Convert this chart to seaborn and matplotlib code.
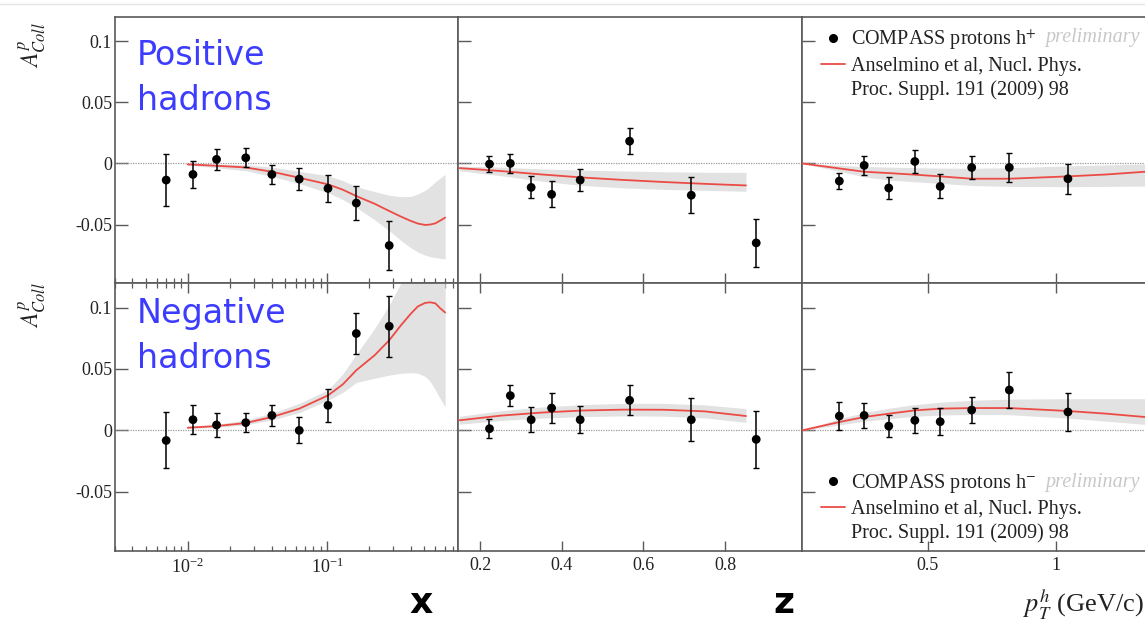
import numpy as np
import pandas as pd
import matplotlib
matplotlib.use("Agg")
import matplotlib.pyplot as plt
import seaborn as sns
from matplotlib.lines import Line2D
from matplotlib.ticker import FixedLocator, FixedFormatter, NullLocator, NullFormatter, LogLocator

# ---------------- data ----------------
x_bins = [0.0070, 0.0109, 0.0161, 0.0261, 0.0402, 0.0632, 0.1017, 0.1625, 0.280]
pos_x_val = [-0.0136, -0.0090, 0.0033, 0.0046, -0.0090, -0.0128, -0.0204, -0.0324, -0.0671]
pos_x_err = [0.0216, 0.0110, 0.0088, 0.0077, 0.0078, 0.0091, 0.0110, 0.0139, 0.0197]
neg_x_val = [-0.0082, 0.0087, 0.0044, 0.0063, 0.0122, 0.0000, 0.0204, 0.0789, 0.0848]
neg_x_err = [0.0228, 0.0120, 0.0098, 0.0080, 0.0083, 0.0106, 0.0135, 0.0170, 0.0250]

z_bins = [0.223, 0.274, 0.325, 0.375, 0.445, 0.566, 0.717, 0.876]
pos_z_val = [-0.0005, 0.0000, -0.0196, -0.0253, -0.0136, 0.0182, -0.0260, -0.0650]
pos_z_err = [0.0065, 0.0080, 0.0090, 0.0107, 0.0093, 0.0104, 0.0147, 0.0197]
neg_z_val = [0.0014, 0.0283, 0.0087, 0.0182, 0.0087, 0.0245, 0.0087, -0.0073]
neg_z_err = [0.0075, 0.0087, 0.0103, 0.0120, 0.0110, 0.0123, 0.0174, 0.0233]

pt_bins = [0.155, 0.252, 0.348, 0.450, 0.549, 0.672, 0.819, 1.048]
pos_pt_val = [-0.0144, -0.0016, -0.0201, 0.0016, -0.0188, -0.0033, -0.0033, -0.0125]
pos_pt_err = [0.0068, 0.0080, 0.0087, 0.0091, 0.0098, 0.0095, 0.0122, 0.0122]
neg_pt_val = [0.0117, 0.0122, 0.0035, 0.0082, 0.0071, 0.0166, 0.0329, 0.0150]
neg_pt_err = [0.0117, 0.0100, 0.0090, 0.0102, 0.0109, 0.0108, 0.0144, 0.0152]

# model curves (Anselmino et al.) with uncertainty bands
x_model = [0.0100, 0.0161, 0.0261, 0.0402, 0.0632, 0.1017, 0.1300, 0.1625, 0.220,
           0.280, 0.340, 0.400, 0.450, 0.507, 0.550, 0.600, 0.650, 0.706]
pos_x_model = [-0.0008, -0.0019, -0.0033, -0.0068, -0.0117, -0.0171, -0.0215, -0.0267, -0.0330,
               -0.0389, -0.0435, -0.0470, -0.0492, -0.0503, -0.0500, -0.0490, -0.0468, -0.0443]
pos_x_lo = [-0.0015, -0.0035, -0.0060, -0.0105, -0.0165, -0.0240, -0.0295, -0.0360, -0.0460,
            -0.0550, -0.0630, -0.0690, -0.0725, -0.0750, -0.0762, -0.0770, -0.0776, -0.0780]
pos_x_hi = [0.0000, -0.0005, -0.0010, -0.0030, -0.0065, -0.0100, -0.0140, -0.0190, -0.0230,
            -0.0260, -0.0272, -0.0270, -0.0250, -0.0220, -0.0190, -0.0150, -0.0120, -0.0090]
neg_x_model = [0.0022, 0.0035, 0.0060, 0.0109, 0.0177, 0.0285, 0.0375, 0.0490, 0.0612,
               0.0734, 0.0856, 0.0950, 0.1010, 0.1038, 0.1043, 0.1035, 0.0995, 0.0960]
neg_x_lo = [0.0015, 0.0025, 0.0045, 0.0085, 0.0145, 0.0245, 0.0310, 0.0390, 0.0425,
            0.0450, 0.0465, 0.0470, 0.0465, 0.0440, 0.0400, 0.0330, 0.0260, 0.0190]
neg_x_hi = [0.0030, 0.0050, 0.0085, 0.0140, 0.0220, 0.0330, 0.0460, 0.0620, 0.0830,
            0.1020, 0.1200, 0.1300, 0.1350, 0.1400, 0.1400, 0.1400, 0.1400, 0.1400]

z_model = [0.149, 0.250, 0.350, 0.450, 0.550, 0.650, 0.750, 0.851]
pos_z_model = [-0.0038, -0.0062, -0.0090, -0.0115, -0.0135, -0.0152, -0.0167, -0.0180]
pos_z_lo = [-0.0060, -0.0100, -0.0145, -0.0180, -0.0200, -0.0212, -0.0220, -0.0228]
pos_z_hi = [-0.0022, -0.0030, -0.0045, -0.0055, -0.0062, -0.0068, -0.0072, -0.0073]
neg_z_model = [0.0082, 0.0120, 0.0145, 0.0162, 0.0169, 0.0168, 0.0155, 0.0117]
neg_z_lo = [0.0050, 0.0080, 0.0100, 0.0112, 0.0118, 0.0116, 0.0102, 0.0065]
neg_z_hi = [0.0115, 0.0160, 0.0190, 0.0210, 0.0220, 0.0220, 0.0208, 0.0177]

pt_model = [0.009, 0.155, 0.252, 0.348, 0.450, 0.549, 0.672, 0.819, 1.048, 1.200, 1.349]
pos_pt_model = [0.0000, -0.0041, -0.0068, -0.0079, -0.0092, -0.0106, -0.0125, -0.0125, -0.0106, -0.0090, -0.0068]
pos_pt_lo = [0.0000, -0.0065, -0.0110, -0.0135, -0.0150, -0.0163, -0.0180, -0.0188, -0.0190, -0.0188, -0.0185]
pos_pt_hi = [0.0000, -0.0015, -0.0025, -0.0030, -0.0035, -0.0038, -0.0040, -0.0035, -0.0020, -0.0012, -0.0005]
neg_pt_model = [0.0000, 0.0068, 0.0109, 0.0136, 0.0163, 0.0177, 0.0182, 0.0182, 0.0158, 0.0136, 0.0109]
neg_pt_lo = [0.0000, 0.0045, 0.0075, 0.0095, 0.0115, 0.0125, 0.0130, 0.0128, 0.0100, 0.0075, 0.0049]
neg_pt_hi = [0.0000, 0.0095, 0.0145, 0.0180, 0.0210, 0.0230, 0.0245, 0.0255, 0.0258, 0.0258, 0.0258]

y_ticks = [-0.05, 0.0, 0.05, 0.1]
y_tick_labels = ["-0.05", "0", "0.05", "0.1"]
z_ticks = [0.2, 0.4, 0.6, 0.8]
z_tick_labels = ["0.2", "0.4", "0.6", "0.8"]
pt_ticks = [0.5, 1.0]
pt_tick_labels = ["0.5", "1"]

row_notes = [["Positive", "hadrons"], ["Negative", "hadrons"]]
legend_data = ["COMPASS protons h$^{+}$", "COMPASS protons h$^{-}$"]
legend_model = ["Anselmino et al, Nucl. Phys.", "Proc. Suppl. 191 (2009) 98"]

# ---------------- style ----------------
sns.set_theme(style="ticks")
plt.rcParams['font.family'] = ['Liberation Serif', 'DejaVu Serif']
plt.rcParams['mathtext.fontset'] = 'stix'

RED = "#ec4b45"
BAND = "#e2e2e2"
FRAME = "#5a5a5a"

fig = plt.figure(figsize=(11.45, 6.27), dpi=100)

lefts = [0.1004, 0.4004, 0.7004]
widths = [0.3000, 0.3000, 0.2996]
rows = [(0.5486, 0.4248), (0.1220, 0.4266)]
ylim = (-0.0978, 0.1200)

def make_panel(ax, xb, val, err, xm, ym, lo, hi):
    ax.fill_between(xm, lo, hi, color=BAND, lw=0, zorder=1)
    ax.axhline(0, color="#9a9a9a", lw=0.9, ls=(0, (1, 1)), zorder=2)
    sns.lineplot(x=xm, y=ym, ax=ax, color=RED, lw=1.3, sort=False, zorder=3)
    ax.errorbar(xb, val, yerr=err, fmt="none", ecolor="black", elinewidth=1.1,
                capsize=2.2, capthick=1.0, zorder=4)
    sns.scatterplot(x=xb, y=val, ax=ax, color="black", s=40, edgecolor="none",
                    zorder=5, legend=False)

panels = [
    [(x_bins, pos_x_val, pos_x_err, x_model, pos_x_model, pos_x_lo, pos_x_hi),
     (z_bins, pos_z_val, pos_z_err, z_model, pos_z_model, pos_z_lo, pos_z_hi),
     (pt_bins, pos_pt_val, pos_pt_err, pt_model, pos_pt_model, pos_pt_lo, pos_pt_hi)],
    [(x_bins, neg_x_val, neg_x_err, x_model, neg_x_model, neg_x_lo, neg_x_hi),
     (z_bins, neg_z_val, neg_z_err, z_model, neg_z_model, neg_z_lo, neg_z_hi),
     (pt_bins, neg_pt_val, neg_pt_err, pt_model, neg_pt_model, neg_pt_lo, neg_pt_hi)],
]
xlims = [(0.003, 0.88), (0.147, 0.988), (0.009, 1.349)]

axes = [[None] * 3 for _ in range(2)]
for r, (b, h) in enumerate(rows):
    for c in range(3):
        ax = fig.add_axes([lefts[c], b, widths[c], h])
        axes[r][c] = ax
        if c == 0:
            ax.set_xscale("log")
        make_panel(ax, *panels[r][c])
        ax.set_xlim(*xlims[c])
        ax.set_ylim(*ylim)
        ax.set_xlabel("")
        ax.set_ylabel("")
        ax.yaxis.set_major_locator(FixedLocator(y_ticks))
        ax.yaxis.set_major_formatter(FixedFormatter(y_tick_labels))
        ax.yaxis.set_minor_locator(NullLocator())
        if c == 0:
            ax.xaxis.set_major_locator(LogLocator(base=10, numticks=10))
            ax.xaxis.set_minor_locator(LogLocator(base=10, subs=np.arange(2, 10), numticks=10))
            ax.xaxis.set_minor_formatter(NullFormatter())
        elif c == 1:
            ax.xaxis.set_major_locator(FixedLocator(z_ticks))
            ax.xaxis.set_major_formatter(FixedFormatter(z_tick_labels))
            ax.xaxis.set_minor_locator(NullLocator())
        else:
            ax.xaxis.set_major_locator(FixedLocator(pt_ticks))
            ax.xaxis.set_major_formatter(FixedFormatter(pt_tick_labels))
            ax.xaxis.set_minor_locator(NullLocator())
        for s in ax.spines.values():
            s.set_color(FRAME)
            s.set_linewidth(1.2)
        ax.spines["right"].set_visible(c != 2)
        ax.tick_params(axis="x", which="major", direction="in", length=7, width=1.0,
                       color=FRAME, top=(r == 1), bottom=True, labelsize=13, pad=5,
                       labelcolor="#222222", labelbottom=(r == 1))
        ax.tick_params(axis="x", which="minor", direction="in", length=3.5, width=0.9,
                       color=FRAME, top=(r == 1), bottom=True)
        ax.tick_params(axis="y", which="major", direction="in", length=9, width=1.0,
                       color=FRAME, left=True, right=False, labelsize=13, pad=2,
                       labelcolor="#222222", labelleft=(c == 0))
        ax.set_facecolor("white")

# row annotations in blue (one text per line, baselines from the picture)
note_y = [[0.818, 0.649], [0.852, 0.681]]
for r in range(2):
    for k in range(2):
        axes[r][0].text(0.064, note_y[r][k], row_notes[r][k], transform=axes[r][0].transAxes,
                        family="DejaVu Sans", fontsize=24, color="#3c3cff",
                        ha="left", va="baseline", zorder=6)

# legends
leg_y = [0.958, 0.293]
prelim_y = [0.92, 0.256]
for r in range(2):
    ax = axes[r][2]
    handles = [
        Line2D([], [], marker="o", color="black", ls="none", markersize=5.5),
        Line2D([], [], color=RED, lw=1.3),
        Line2D([], [], color="none", lw=0),
    ]
    labels = [legend_data[r], legend_model[0], legend_model[1]]
    ax.legend(handles, labels, loc="upper left", bbox_to_anchor=(0.055, leg_y[r]),
              frameon=False, fontsize=14.5, handlelength=1.2, handletextpad=0.3,
              labelspacing=0.22, borderpad=0, borderaxespad=0, labelcolor="#222222")
    ax.text(0.708, prelim_y[r], "preliminary", transform=ax.transAxes, fontsize=14.5,
            style="italic", color="#c8c8c8", ha="left", va="center")

# y-axis labels
for yc in [45, 305]:
    fig.text(32 / 1145, 1 - yc / 627, r"$A^{p}_{Coll}$", rotation=90, ha="center",
             va="center", fontsize=17, color="#222222")

# x labels
fig.text(421 / 1145, 1 - 603 / 627, "x", family="DejaVu Sans", fontsize=26,
         fontweight="bold", ha="center", va="center", color="black")
fig.text(784 / 1145, 1 - 603 / 627, "z", family="DejaVu Sans", fontsize=26,
         fontweight="bold", ha="center", va="center", color="black")
fig.text(1144 / 1145, 1 - 605 / 627, r"$p_{T}^{h}$ (GeV/c)", fontsize=19,
         ha="right", va="center", color="#222222")

# thin light rule at the very top, as in the picture
fig.add_artist(Line2D([0, 1], [1 - 4 / 627, 1 - 4 / 627], transform=fig.transFigure,
                      color="#e4e4e4", lw=1.0))

fig.savefig("out.png", dpi=100, facecolor="white")
